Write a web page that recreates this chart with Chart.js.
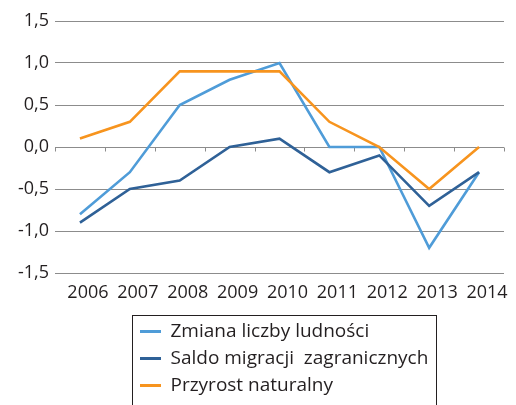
<!DOCTYPE html>
<html>
<head>
<meta charset="utf-8">
<script src="https://cdn.jsdelivr.net/npm/chart.js@4/dist/chart.umd.min.js"></script>
<style>
  html, body { margin: 0; padding: 0; background: #ffffff; }
  #wrap { width: 516px; height: 405px; position: relative; }
</style>
</head>
<body>
<div id="wrap"><canvas id="c" width="516" height="405"></canvas></div>
<script>
const years = ['2006', '2007', '2008', '2009', '2010', '2011', '2012', '2013', '2014'];
const zmianaLiczbyLudnosci = [-0.8, -0.3, 0.5, 0.8, 1.0, 0.0, 0.0, -1.2, -0.3];
const saldoMigracji = [-0.9, -0.5, -0.4, 0.0, 0.1, -0.3, -0.1, -0.7, -0.3];
const przyrostNaturalny = [0.1, 0.3, 0.9, 0.9, 0.9, 0.3, 0.0, -0.5, 0.0];
const seriesNames = ['Zmiana liczby ludności', 'Saldo migracji  zagranicznych', 'Przyrost naturalny'];
const yMin = -1.5, yMax = 1.5, yStep = 0.5;

const FONT = "'Open Sans', 'Noto Sans', sans-serif";
const TEXT = '#231f20';
const GRID = '#8c8c8c';

const zeroTicksPlugin = {
  id: 'zeroTicks',
  beforeDatasetsDraw(chart) {
    const x = chart.scales.x, y = chart.scales.y;
    const ctx = chart.ctx;
    const y0 = Math.round(y.getPixelForValue(0)) + 0.5;
    ctx.save();
    ctx.strokeStyle = GRID;
    ctx.lineWidth = 1;
    ctx.beginPath();
    for (let i = 0; i <= years.length; i++) {
      const px = Math.round(x.getPixelForValue(i - 0.5)) + 0.5;
      ctx.moveTo(px, y0);
      ctx.lineTo(px, y0 + 4);
    }
    ctx.stroke();
    ctx.restore();
  }
};

const legendPlacePlugin = {
  id: 'legendPlace',
  afterLayout(chart) {
    const lg = chart.legend;
    if (lg) { lg.left = 132; }
  },
  afterDraw(chart) {
    const lg = chart.legend;
    if (!lg || !lg.legendHitBoxes) return;
    const pad = lg.options.labels.padding;
    let maxW = 0;
    lg.legendHitBoxes.forEach(h => { maxW = Math.max(maxW, h.width); });
    const ctx = chart.ctx;
    const left = lg.left + 0.5;
    const top = lg.top + 1.5;
    const right = Math.round(lg.left + pad + maxW + 8) + 0.5;
    ctx.save();
    ctx.strokeStyle = TEXT;
    ctx.lineWidth = 1;
    ctx.strokeRect(left, top, right - left, 200);
    ctx.restore();
  }
};

const colors = ['#4f9cd8', '#2f6197', '#f7941e'];
const dataArrays = [zmianaLiczbyLudnosci, saldoMigracji, przyrostNaturalny];

new Chart(document.getElementById('c'), {
  type: 'line',
  data: {
    labels: years,
    datasets: dataArrays.map((d, i) => ({
      label: seriesNames[i],
      data: d,
      borderColor: colors[i],
      backgroundColor: colors[i],
      borderWidth: 2.6,
      pointRadius: 0,
      pointHoverRadius: 0,
      tension: 0,
      fill: false,
      order: 3 - i,
      borderCapStyle: 'butt',
      borderJoinStyle: 'miter'
    }))
  },
  options: {
    responsive: false,
    animation: false,
    devicePixelRatio: 1,
    layout: { padding: { left: 0, right: 12, top: 21, bottom: 0 } },
    scales: {
      x: {
        type: 'category',
        offset: true,
        grid: { display: false, drawTicks: false },
        border: { display: false },
        ticks: {
          color: TEXT,
          font: { family: FONT, size: 18 },
          padding: 9,
          labelOffset: 8,
          maxRotation: 0,
          autoSkip: false
        },
        afterFit(scale) { scale.height = 41; }
      },
      y: {
        min: yMin,
        max: yMax,
        grid: { color: GRID, lineWidth: 1, drawTicks: false },
        border: { display: false },
        ticks: {
          stepSize: yStep,
          color: TEXT,
          font: { family: FONT, size: 18 },
          padding: 6,
          callback: (v) => (Math.round(v * 10) / 10).toFixed(1).replace('.', ',')
        },
        afterFit(scale) { scale.width = 55; }
      }
    },
    plugins: {
      legend: {
        position: 'bottom',
        fullSize: false,
        align: 'start',
        labels: {
          color: TEXT,
          font: { family: FONT, size: 19 },
          boxWidth: 21,
          boxHeight: 3,
          padding: 8,
          sort: (a, b) => a.datasetIndex - b.datasetIndex,
          generateLabels(chart) {
            const items = Chart.defaults.plugins.legend.labels.generateLabels(chart);
            items.forEach(it => { it.lineWidth = 0; });
            return items;
          }
        }
      },
      tooltip: { enabled: false }
    }
  },
  plugins: [zeroTicksPlugin, legendPlacePlugin]
});
</script>
</body>
</html>
